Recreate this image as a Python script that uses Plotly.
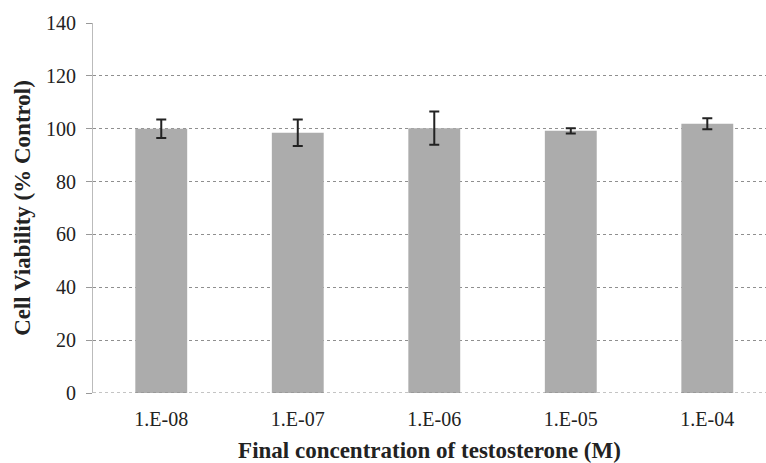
import plotly.graph_objects as go

categories = ["1.E-08", "1.E-07", "1.E-06", "1.E-05", "1.E-04"]
viability = [100.0, 98.5, 100.2, 99.2, 101.9]
errors = [3.5, 5.0, 6.3, 1.0, 2.1]
y_ticks = [0, 20, 40, 60, 80, 100, 120, 140]

fig = go.Figure()
fig.add_trace(go.Bar(
    x=list(range(len(categories))), y=viability,
    width=0.38,
    marker=dict(color="#acacac", line=dict(width=0)),
    error_y=dict(type="data", array=errors, visible=True, color="#222222",
                 thickness=2, width=5),
))

serif = "Liberation Serif"
fig.update_layout(
    width=766, height=463,
    margin=dict(l=93, r=0, t=23, b=70),
    paper_bgcolor="white", plot_bgcolor="white",
    showlegend=False,
    font=dict(family=serif, size=20, color="#222222"),
    xaxis=dict(
        range=[-0.5, 4.43],
        tickmode="array", tickvals=list(range(len(categories))), ticktext=categories,
        showgrid=False, zeroline=False, showline=False,
        ticks="", tickfont=dict(size=20, family=serif),
        ticklabelstandoff=12,
        title=dict(text="<b>Final concentration of testosterone (M)</b>",
                   font=dict(size=23, family=serif), standoff=12),
    ),
    yaxis=dict(
        range=[0, 140], tickvals=y_ticks,
        showgrid=True, gridcolor="#8f8f8f", gridwidth=1, griddash="dot",
        zeroline=False,
        showline=True, linecolor="#bbbbbb", linewidth=1,
        ticks="outside", ticklen=6, tickcolor="#999999",
        tickfont=dict(size=20, family=serif),
        ticklabelstandoff=6,
        title=dict(text="<b>Cell Viability (% Control)</b>",
                   font=dict(size=23, family=serif), standoff=8),
    ),
)
fig.add_hline(y=0, line=dict(color="#888888", width=1, dash="dot"))
fig.write_html("out.html")
